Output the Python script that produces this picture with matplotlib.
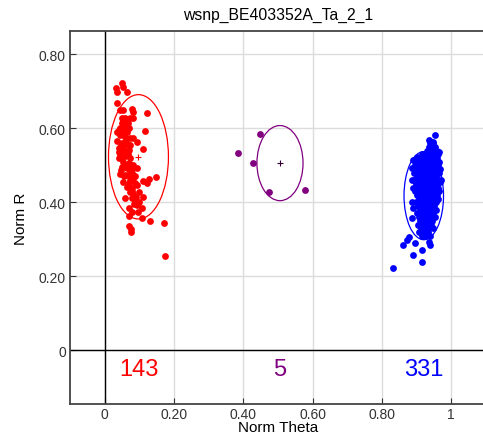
import matplotlib
matplotlib.use('Agg')
import matplotlib.pyplot as plt
from matplotlib.patches import Ellipse

plt.rcParams['font.family'] = ['Liberation Sans', 'DejaVu Sans']

title = 'wsnp_BE403352A_Ta_2_1'

# (norm theta, norm R)
red_pts = [
    (0.033, 0.708), (0.037, 0.699), (0.051, 0.722), (0.052, 0.713), (0.064, 0.697),
    (0.035, 0.668), (0.045, 0.650), (0.052, 0.650), (0.078, 0.652), (0.083, 0.645),
    (0.122, 0.642), (0.050, 0.629), (0.059, 0.629), (0.074, 0.627), (0.083, 0.629),
    (0.050, 0.614), (0.059, 0.609), (0.040, 0.595), (0.035, 0.591), (0.054, 0.595),
    (0.064, 0.591), (0.117, 0.593), (0.045, 0.582), (0.059, 0.577), (0.074, 0.573),
    (0.083, 0.573), (0.093, 0.562), (0.035, 0.566), (0.050, 0.559), (0.064, 0.557),
    (0.040, 0.546), (0.054, 0.546), (0.069, 0.541), (0.110, 0.543), (0.045, 0.530),
    (0.059, 0.526), (0.074, 0.521), (0.040, 0.519), (0.054, 0.510), (0.069, 0.505),
    (0.083, 0.501), (0.050, 0.496), (0.064, 0.492), (0.078, 0.492), (0.093, 0.492),
    (0.045, 0.476), (0.059, 0.474), (0.083, 0.465), (0.074, 0.460), (0.112, 0.458),
    (0.129, 0.463), (0.149, 0.469), (0.054, 0.456), (0.069, 0.451), (0.088, 0.451),
    (0.122, 0.451), (0.064, 0.442), (0.078, 0.438), (0.093, 0.447), (0.074, 0.429),
    (0.083, 0.422), (0.098, 0.429), (0.112, 0.415), (0.059, 0.411), (0.078, 0.411),
    (0.088, 0.406), (0.093, 0.393), (0.107, 0.386), (0.069, 0.386), (0.078, 0.375),
    (0.069, 0.364), (0.107, 0.357), (0.131, 0.350), (0.170, 0.343), (0.069, 0.337),
    (0.076, 0.328), (0.076, 0.319), (0.173, 0.255),
    (0.045, 0.600), (0.055, 0.585), (0.062, 0.570), (0.048, 0.555), (0.058, 0.540),
    (0.066, 0.530), (0.050, 0.520), (0.062, 0.500), (0.072, 0.485), (0.056, 0.470),
    (0.068, 0.475), (0.080, 0.480), (0.088, 0.470), (0.066, 0.615), (0.070, 0.600),
    (0.042, 0.535), (0.060, 0.560), (0.072, 0.555), (0.078, 0.430), (0.090, 0.415),
    (0.100, 0.400), (0.085, 0.395), (0.095, 0.375), (0.060, 0.620), (0.047, 0.488),
]
purple_pts = [(0.449, 0.586), (0.386, 0.534), (0.429, 0.505), (0.473, 0.427), (0.579, 0.433)]
blue_pts = [
    (0.954, 0.582), (0.935, 0.568), (0.949, 0.562), (0.939, 0.550), (0.964, 0.537),
    (0.930, 0.528), (0.901, 0.523), (0.891, 0.514), (0.886, 0.492), (0.896, 0.483),
    (0.968, 0.456), (0.886, 0.460), (0.891, 0.438), (0.886, 0.402), (0.891, 0.384),
    (0.886, 0.357), (0.877, 0.307), (0.862, 0.286), (0.872, 0.298), (0.896, 0.289),
    (0.935, 0.294), (0.939, 0.285), (0.915, 0.271), (0.889, 0.258), (0.915, 0.238),
    (0.831, 0.223),
    (0.940, 0.560), (0.948, 0.560), (0.935, 0.550), (0.945, 0.550), (0.952, 0.550),
    (0.930, 0.540), (0.941, 0.540), (0.950, 0.540), (0.958, 0.540),
    (0.915, 0.530), (0.925, 0.530), (0.937, 0.530), (0.946, 0.530), (0.955, 0.530), (0.962, 0.530),
    (0.905, 0.520), (0.918, 0.520), (0.928, 0.520), (0.940, 0.520), (0.951, 0.520), (0.960, 0.520),
    (0.900, 0.510), (0.912, 0.510), (0.924, 0.510), (0.933, 0.510), (0.944, 0.510), (0.956, 0.510), (0.965, 0.510),
    (0.896, 0.500), (0.908, 0.500), (0.920, 0.500), (0.931, 0.500), (0.942, 0.500), (0.953, 0.500), (0.962, 0.500),
    (0.904, 0.490), (0.916, 0.490), (0.927, 0.490), (0.938, 0.490), (0.948, 0.490), (0.958, 0.490), (0.967, 0.490),
    (0.893, 0.480), (0.910, 0.480), (0.922, 0.480), (0.934, 0.480), (0.945, 0.480), (0.955, 0.480), (0.964, 0.480),
    (0.900, 0.470), (0.914, 0.470), (0.926, 0.470), (0.937, 0.470), (0.947, 0.470), (0.957, 0.470),
    (0.892, 0.460), (0.906, 0.460), (0.919, 0.460), (0.930, 0.460), (0.941, 0.460), (0.952, 0.460), (0.962, 0.460), (0.970, 0.460),
    (0.898, 0.450), (0.912, 0.450), (0.924, 0.450), (0.935, 0.450), (0.946, 0.450), (0.958, 0.450),
    (0.903, 0.440), (0.916, 0.440), (0.928, 0.440), (0.939, 0.440), (0.950, 0.440), (0.961, 0.440),
    (0.895, 0.430), (0.909, 0.430), (0.921, 0.430), (0.933, 0.430), (0.944, 0.430), (0.955, 0.430), (0.966, 0.430),
    (0.901, 0.420), (0.914, 0.420), (0.926, 0.420), (0.937, 0.420), (0.948, 0.420), (0.959, 0.420),
    (0.907, 0.410), (0.919, 0.410), (0.930, 0.410), (0.942, 0.410), (0.953, 0.410), (0.963, 0.410),
    (0.898, 0.400), (0.912, 0.400), (0.924, 0.400), (0.935, 0.400), (0.946, 0.400), (0.957, 0.400),
    (0.904, 0.390), (0.917, 0.390), (0.929, 0.390), (0.940, 0.390), (0.951, 0.390),
    (0.909, 0.380), (0.921, 0.380), (0.933, 0.380), (0.944, 0.380), (0.955, 0.380),
    (0.901, 0.370), (0.914, 0.370), (0.926, 0.370), (0.938, 0.370), (0.949, 0.370),
    (0.907, 0.360), (0.919, 0.360), (0.931, 0.360), (0.943, 0.360), (0.954, 0.360),
    (0.911, 0.350), (0.923, 0.350), (0.935, 0.350), (0.946, 0.350),
    (0.905, 0.340), (0.917, 0.340), (0.929, 0.340), (0.941, 0.340),
    (0.912, 0.330), (0.924, 0.330), (0.936, 0.330), (0.948, 0.330),
    (0.908, 0.320), (0.920, 0.320), (0.932, 0.320),
    (0.915, 0.310), (0.927, 0.310), (0.939, 0.310),
]

# cluster summaries: color, count, center, ellipse width/height
clusters = [
    ('#ff0000', 143, (0.0976, 0.523), 0.173, 0.336, red_pts),
    ('#800080', 5, (0.506, 0.506), 0.133, 0.203, purple_pts),
    ('#0000ff', 331, (0.921, 0.418), 0.114, 0.238, blue_pts),
]

fig = plt.figure(figsize=(4.83, 4.39), dpi=100)
ax = fig.add_axes([70/483, 34/439, 415.8/483, 373/439])
ax.set_xlim(-0.1, 1.1)
ax.set_ylim(-0.145, 0.863)

ax.set_xticks([0, 0.2, 0.4, 0.6, 0.8, 1])
ax.set_xticklabels(['0', '0.20', '0.40', '0.60', '0.80', '1'])
ax.set_yticks([0, 0.2, 0.4, 0.6, 0.8])
ax.set_yticklabels(['0', '0.20', '0.40', '0.60', '0.80'])
ax.tick_params(direction='in', length=4, labelsize=10, colors='#333333', pad=3)
ax.tick_params(axis='x', pad=2)
ax.grid(True, color='#dcdcdc', linewidth=1)
ax.set_axisbelow(True)
ax.axvline(0, color='black', linewidth=1, zorder=1)
ax.axhline(0, color='black', linewidth=1, zorder=1)
for s in ['left', 'top', 'bottom']:
    ax.spines[s].set_color('#444444')
    ax.spines[s].set_linewidth(1.3)
ax.spines['right'].set_visible(False)

for color, n, c, w, h, pts in clusters:
    xs = [p[0] for p in pts]
    ys = [p[1] for p in pts]
    ax.scatter(xs, ys, s=24, color=color, linewidths=0, zorder=3)
    ax.add_patch(Ellipse(c, w, h, fill=False, edgecolor=color, linewidth=0.9, zorder=4))
    ax.plot(c[0], c[1], marker='+', color=color if n != 5 else '#330033',
            markersize=4, markeredgewidth=0.8, zorder=5)
    ax.text(c[0], -0.05, str(n), color=color, fontsize=17, ha='center', va='center')

ax.set_title(title, fontsize=11.3, pad=9)
ax.set_xlabel('Norm Theta', fontsize=11, labelpad=0)
ax.xaxis.set_label_coords(0.5, -0.044)
ax.set_ylabel('Norm R', fontsize=11, labelpad=8)

fig.savefig('out.png', dpi=100)
